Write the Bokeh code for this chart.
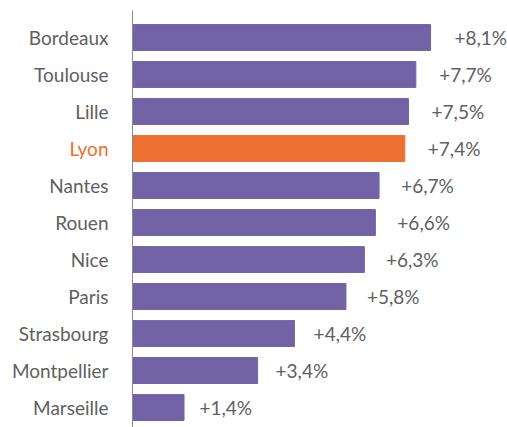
from bokeh.plotting import figure
from bokeh.models import ColumnDataSource, Range1d, Span
from bokeh.core.properties import value
from bokeh.embed import file_html
from bokeh.resources import INLINE

cities = ["Bordeaux", "Toulouse", "Lille", "Lyon", "Nantes", "Rouen", "Nice",
          "Paris", "Strasbourg", "Montpellier", "Marseille"]
growth = [8.1, 7.7, 7.5, 7.4, 6.7, 6.6, 6.3, 5.8, 4.4, 3.4, 1.4]
highlight = "Lyon"

PURPLE = "#7263A7"
ORANGE = "#EE7031"
GREY_TXT = "#606060"

n = len(cities)
ypos = [n - 1 - i for i in range(n)]
bar_colors = [ORANGE if c == highlight else PURPLE for c in cities]
lab_colors = [ORANGE if c == highlight else GREY_TXT for c in cities]
val_text = ["+" + ("%.1f" % v).replace(".", ",") + "%" for v in growth]
LABEL_SPREAD = 1.034  # value labels drift slightly further right as bars grow
val_x = [v * LABEL_SPREAD for v in growth]

src = ColumnDataSource(dict(city=cities, v=growth, y=ypos, bc=bar_colors,
                            lc=lab_colors, vt=val_text, vx=val_x, zero=[0] * n))

W, H = 507, 427
PX_PER_UNIT = 36.8
ZERO_PX = 132
p = figure(width=W, height=H, output_backend="svg", toolbar_location=None,
           x_range=Range1d(-ZERO_PX / PX_PER_UNIT, (W - ZERO_PX) / PX_PER_UNIT),
           y_range=Range1d(-0.54, n - 1 + 0.73),
           min_border_left=0, min_border_right=0, min_border_top=10,
           min_border_bottom=0)
p.hbar(y="y", left=0, right="v", height=0.7, color="bc", source=src)

p.text(x="zero", y="y", text="city", source=src, x_offset=-24,
       text_align="right", text_baseline="middle",
       text_font=value("Lato"), text_font_size="19px", text_color="lc")
p.text(x="vx", y="y", text="vt", source=src, x_offset=40,
       text_align="center", text_baseline="middle",
       text_font=value("Lato"), text_font_size="19px", text_color=GREY_TXT)

p.add_layout(Span(location=0, dimension="height", line_color="#8a8a8a",
                  line_width=1))

p.axis.visible = False
p.grid.visible = False
p.outline_line_color = None

open("out.html", "w").write(file_html(p, INLINE))
